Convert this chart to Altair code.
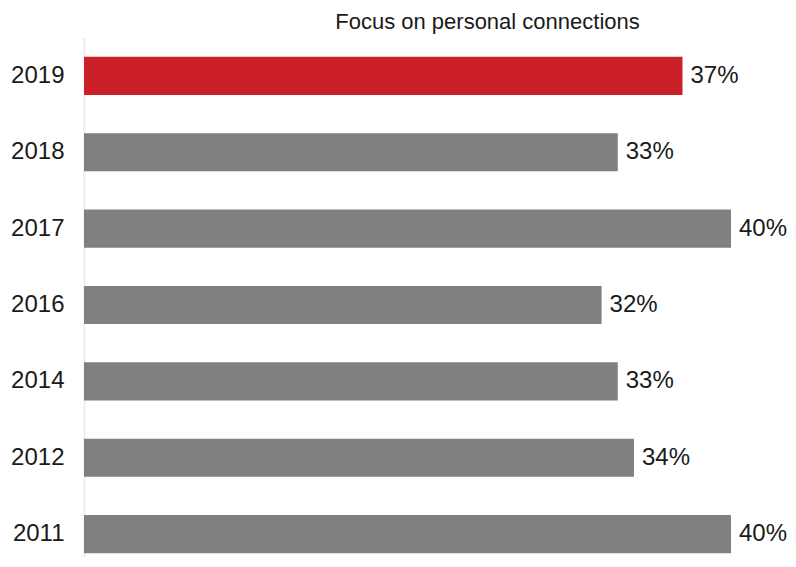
import altair as alt
import pandas as pd

years = ["2019", "2018", "2017", "2016", "2014", "2012", "2011"]
values = [37, 33, 40, 32, 33, 34, 40]
highlight = [True, False, False, False, False, False, False]
title_text = "Focus on personal connections"

df = pd.DataFrame({
    "year": years,
    "value": values,
    "hl": ["yes" if h else "no" for h in highlight],
    "label": [f"{v}%" for v in values],
})

FONT = "Liberation Sans"
H = 504
W = 647

base = alt.Chart(df)

ycat = alt.Y("year:N", sort=years,
             scale=alt.Scale(paddingInner=0.5, paddingOuter=0.05),
             axis=alt.Axis(title=None, ticks=False, domain=False, grid=False,
                           labelFontSize=24, labelFont=FONT, labelColor="#1a1a1a",
                           labelPadding=20))

bars = base.mark_bar().encode(
    x=alt.X("value:Q", scale=alt.Scale(domain=[0, 40]), axis=None),
    y=ycat,
    color=alt.Color("hl:N", scale=alt.Scale(domain=["yes", "no"],
                                            range=["#cc2029", "#808080"]),
                    legend=None),
)

labels = base.mark_text(align="left", baseline="middle", dx=8, fontSize=24,
                        font=FONT, color="#1a1a1a").encode(
    x=alt.X("value:Q"),
    y=alt.Y("year:N", sort=years),
    text="label:N",
)

axis_line = alt.Chart(alt.Data(values=[{"a": 1}])).mark_rule(
    color="#eeeeee", strokeWidth=2).encode(
    x=alt.value(0.5), y=alt.value(-15), y2=alt.value(H + 20))

chart = alt.layer(axis_line, bars, labels).properties(
    width=W, height=H,
    title=alt.TitleParams(title_text, fontSize=22, font=FONT, fontWeight="normal",
                          color="#1a1a1a", anchor="middle", dx=80, offset=3),
    autosize=alt.AutoSizeParams(type="none"),
    padding={"left": 76, "top": 45, "right": 57, "bottom": 0},
).configure_view(stroke=None)

chart.save("out.html", embed_options={"renderer": "svg", "actions": False})
